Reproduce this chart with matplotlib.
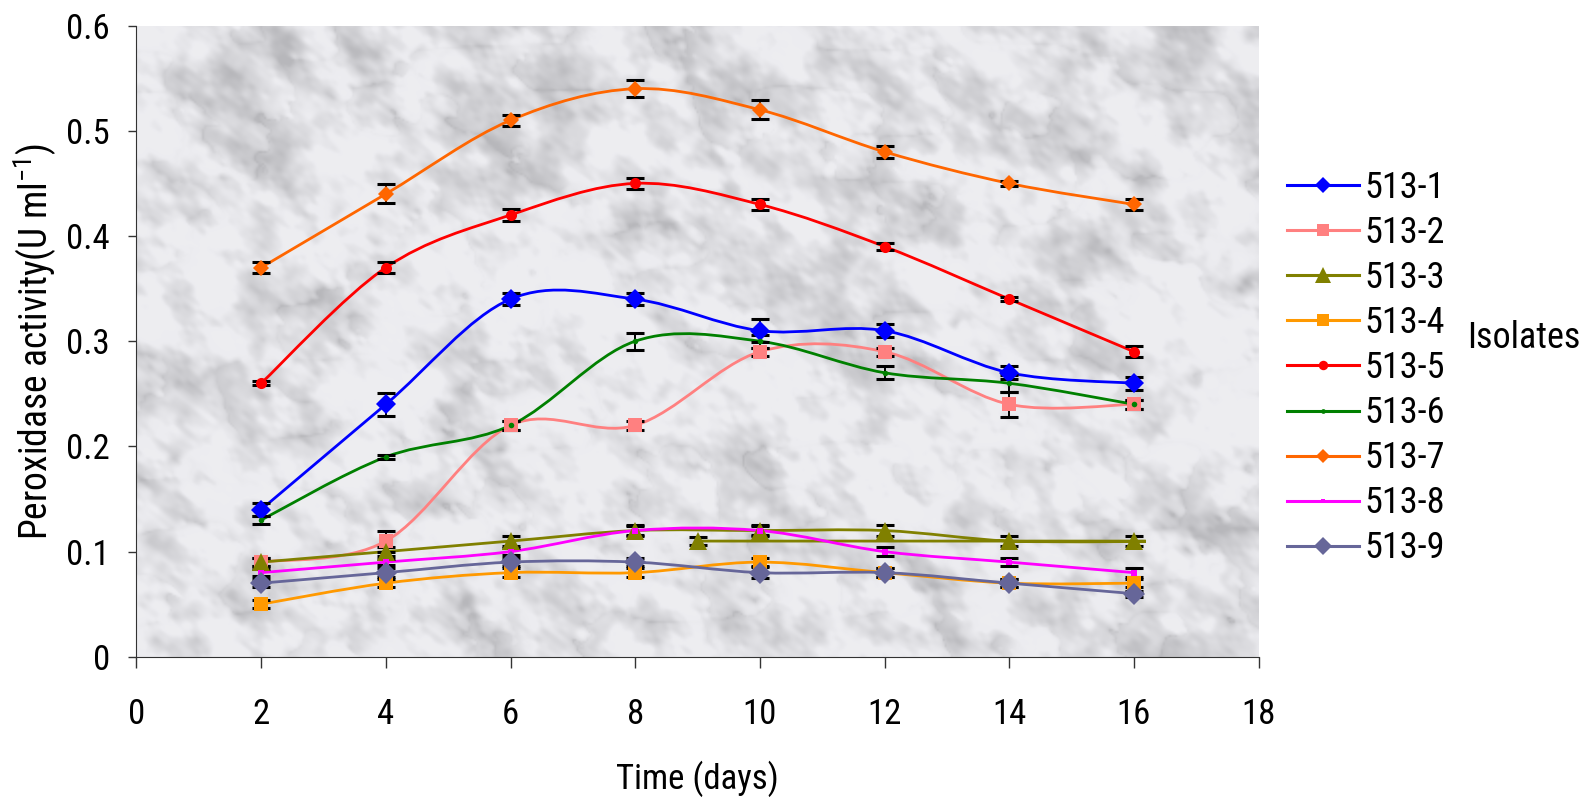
import numpy as np
import matplotlib
matplotlib.use("Agg")
import matplotlib.pyplot as plt
from matplotlib import font_manager
from matplotlib.path import Path
from matplotlib.patches import PathPatch
from matplotlib.lines import Line2D

installed = {f.name for f in font_manager.fontManager.ttflist}
if 'Roboto Condensed' in installed:
    plt.rcParams['font.family'] = ['Roboto Condensed', 'DejaVu Sans']
    FS = 25
else:
    plt.rcParams['font.family'] = ['Liberation Sans', 'DejaVu Sans']
    FS = 23

days = [2, 4, 6, 8, 10, 12, 14, 16]
# 513-3 has an extra reading at day 9 entered at the end of the column
days_513_3 = [2, 4, 6, 8, 10, 12, 14, 16, 9]

iso_1 = [0.14, 0.24, 0.34, 0.34, 0.31, 0.31, 0.27, 0.26]
iso_2 = [0.09, 0.11, 0.22, 0.22, 0.29, 0.29, 0.24, 0.24]
iso_3 = [0.09, 0.10, 0.11, 0.12, 0.12, 0.12, 0.11, 0.11, 0.11]
iso_4 = [0.05, 0.07, 0.08, 0.08, 0.09, 0.08, 0.07, 0.07]
iso_5 = [0.26, 0.37, 0.42, 0.45, 0.43, 0.39, 0.34, 0.29]
iso_6 = [0.13, 0.19, 0.22, 0.30, 0.30, 0.27, 0.26, 0.24]
iso_7 = [0.37, 0.44, 0.51, 0.54, 0.52, 0.48, 0.45, 0.43]
iso_8 = [0.08, 0.09, 0.10, 0.12, 0.12, 0.10, 0.09, 0.08]
iso_9 = [0.07, 0.08, 0.09, 0.09, 0.08, 0.08, 0.07, 0.06]

err_1 = [0.006, 0.011, 0.006, 0.006, 0.011, 0.006, 0.006, 0.006]
err_2 = [0.004, 0.010, 0.004, 0.004, 0.004, 0.004, 0.012, 0.004]
err_3 = [0.004, 0.004, 0.005, 0.005, 0.005, 0.005, 0.005, 0.005, 0.004]
err_4 = [0.004, 0.004, 0.004, 0.004, 0.004, 0.004, 0.004, 0.004]
err_5 = [0.002, 0.005, 0.006, 0.005, 0.005, 0.003, 0.002, 0.005]
err_6 = [0.004, 0.002, 0.004, 0.008, 0.006, 0.006, 0.008, 0.004]
err_7 = [0.005, 0.009, 0.005, 0.008, 0.009, 0.006, 0.002, 0.005]
err_8 = [0.003, 0.003, 0.003, 0.004, 0.004, 0.004, 0.004, 0.004]
err_9 = [0.004, 0.004, 0.004, 0.004, 0.005, 0.004, 0.004, 0.003]

labels = ['513-1', '513-2', '513-3', '513-4', '513-5', '513-6', '513-7', '513-8', '513-9']
colors = ['#0000FF', '#FF8080', '#808000', '#FF9900', '#FF0000', '#008000', '#FF6600', '#FF00FF', '#666699']
markers = ['D', 's', '^', 's', 'o', 'o', 'D', 's', 'D']
msizes = [10, 10.5, 13, 10, 8, 4, 8, 4, 11]

xs = [days, days, days_513_3, days, days, days, days, days, days]
ys = [iso_1, iso_2, iso_3, iso_4, iso_5, iso_6, iso_7, iso_8, iso_9]
errs = [err_1, err_2, err_3, err_4, err_5, err_6, err_7, err_8, err_9]


def smooth_path(x, y):
    # cubic bezier segments through every point (Excel style smoothing)
    p = np.column_stack([x, y]).astype(float)
    n = len(p)
    verts = [p[0]]
    codes = [Path.MOVETO]
    for i in range(n - 1):
        p0 = p[i - 1] if i > 0 else p[i]
        p3 = p[i + 2] if i + 2 < n else p[i + 1]
        c1 = p[i] + (p[i + 1] - p0) / 6.0
        c2 = p[i + 1] - (p3 - p[i]) / 6.0
        verts += [c1, c2, p[i + 1]]
        codes += [Path.CURVE4] * 3
    return Path(verts, codes)


def hash2(a, b, s):
    t = np.sin(a * 12.9898 + b * 78.233 + s * 37.719) * 43758.5453
    return t - np.floor(t)


def vnoise(gx, gy, s):
    ix = np.floor(gx).astype(int)
    iy = np.floor(gy).astype(int)
    fx = gx - ix
    fy = gy - iy
    fx = fx * fx * (3 - 2 * fx)
    fy = fy * fy * (3 - 2 * fy)
    a = hash2(ix, iy, s)
    b = hash2(ix + 1, iy, s)
    c = hash2(ix, iy + 1, s)
    d = hash2(ix + 1, iy + 1, s)
    return (a * (1 - fx) + b * fx) * (1 - fy) + (c * (1 - fx) + d * fx) * fy


def marble(h, w):
    # light grey mottled stone for the plot area, with soft dark cracks
    yy, xx = np.mgrid[0:h, 0:w].astype(float)
    ru = (xx * 0.8 + yy * 0.6)
    rv = (-xx * 0.6 + yy * 0.8)
    fbm = np.zeros((h, w))
    tot = 0.0
    for k, (cell, amp) in enumerate([(40.0, 0.5), (20.0, 0.9), (10.0, 1.0), (5.0, 0.7), (2.5, 0.4)]):
        fbm += amp * vnoise(ru / (cell * 1.6), rv / cell, k)
        tot += amp
    fbm /= tot
    crack = vnoise(xx / 30.0 + fbm * 2, yy / 22.0, 21)
    cracks = np.exp(-np.abs(crack - 0.5) / 0.04)
    img = 0.93 - 0.5 * np.clip(fbm - 0.42, 0, 1)
    img -= 0.10 * cracks * np.clip(fbm * 2 - 0.6, 0, 1)
    img = np.clip(img, 0.72, 0.96)
    # faint cool tint as in polished marble
    return np.dstack([img, img, np.clip(img + 0.015, 0, 1)])


fig = plt.figure(figsize=(15.85, 8.0), dpi=100)
ax = fig.add_axes([0.0861, 0.179, 0.708, 0.789])
ax.set_xlim(0, 18)
ax.set_ylim(0, 0.6)

ax.imshow(marble(316, 561), extent=[0, 18, 0, 0.6],
          aspect='auto', interpolation='bilinear', zorder=0)

for x, y, e, c, m, ms in zip(xs, ys, errs, colors, markers, msizes):
    ax.add_patch(PathPatch(smooth_path(x, y), fill=False, edgecolor=c, lw=2.0, zorder=2))
    ax.errorbar(x, y, yerr=e, fmt='none', ecolor='black', elinewidth=1.4,
                capsize=6.5, capthick=2.2, zorder=3)
    ax.plot(x, y, linestyle='none', marker=m, ms=ms, color=c, mec=c, mew=0, zorder=4)

ax.set_xticks(range(0, 19, 2))
ax.set_yticks([0, 0.1, 0.2, 0.3, 0.4, 0.5, 0.6])
ax.set_yticklabels(['0', '0.1', '0.2', '0.3', '0.4', '0.5', '0.6'])
ax.tick_params(axis='both', labelsize=FS, direction='out', width=1, colors='#333333',
               labelcolor='black')
ax.tick_params(axis='x', length=8, pad=22)
ax.tick_params(axis='y', length=6, pad=13)
for s in ['top', 'right']:
    ax.spines[s].set_visible(False)
for s in ['left', 'bottom']:
    ax.spines[s].set_color('#333333')

ax.set_xlabel('Time (days)', fontsize=FS)
ax.xaxis.set_label_coords(0.5, -0.164)
ax.set_ylabel(r'Peroxidase activity(U ml$^{\mathregular{-1}}$)', fontsize=FS + 2)
ax.yaxis.set_label_coords(-0.069, 0.5)

handles = [Line2D([], [], color=c, marker=m, ms=ms * 0.85, lw=2.2, mew=0)
           for c, m, ms in zip(colors, markers, msizes)]
fig.legend(handles, labels, loc='upper left', bbox_to_anchor=(1287 / 1585, 1 - 170 / 800),
           frameon=False, fontsize=FS + 1, handlelength=2.0, handletextpad=0.15,
           labelspacing=0.25, borderpad=0, borderaxespad=0)
fig.text(1467 / 1585, 1 - 338 / 800, 'Isolates', fontsize=FS + 1, va='center', ha='left')

fig.savefig('out.png', dpi=100)
